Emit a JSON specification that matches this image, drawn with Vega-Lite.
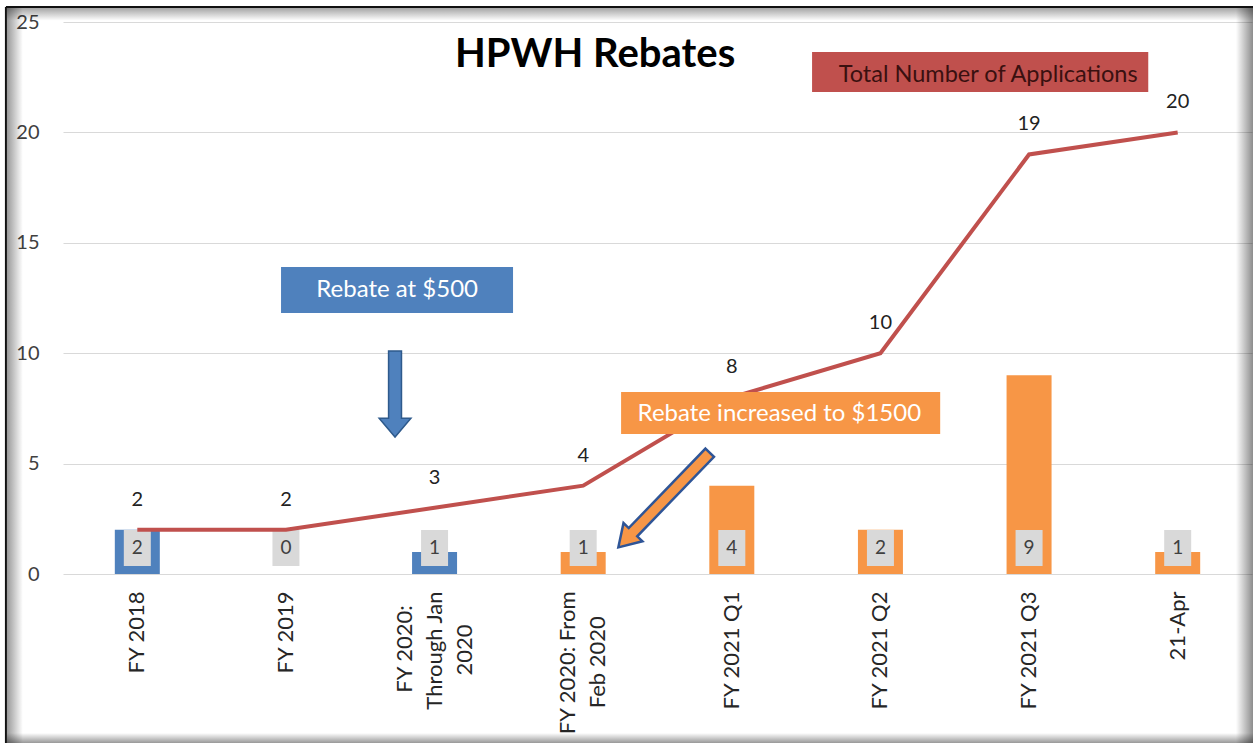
{
  "$schema": "https://vega.github.io/schema/vega-lite/v6.json",
  "width": 1189,
  "height": 552,
  "autosize": "none",
  "padding": {"left": 63, "top": 22, "right": 1, "bottom": 169},
  "background": "white",
  "config": {"view": {"stroke": null}, "font": "Lato", "text": {"font": "Lato"}},
  "resolve": {"scale": {"x": "independent", "color": "independent"}},
  "layer": [
    {
      "data": {"values": [
        {"cat": "FY 2018", "count": 2, "total": 2, "rebate": "$500"},
        {"cat": "FY 2019", "count": 0, "total": 2, "rebate": "$500"},
        {"cat": "FY 2020:\nThrough Jan\n2020", "count": 1, "total": 3, "rebate": "$500"},
        {"cat": "FY 2020: From\nFeb 2020", "count": 1, "total": 4, "rebate": "$1500"},
        {"cat": "FY 2021 Q1", "count": 4, "total": 8, "rebate": "$1500"},
        {"cat": "FY 2021 Q2", "count": 2, "total": 10, "rebate": "$1500"},
        {"cat": "FY 2021 Q3", "count": 9, "total": 19, "rebate": "$1500"},
        {"cat": "21-Apr", "count": 1, "total": 20, "rebate": "$1500"}
      ]},
      "encoding": {
        "x": {
          "field": "cat", "type": "nominal", "sort": null, "title": null,
          "scale": {"paddingInner": 0, "paddingOuter": 0},
          "axis": {
            "domain": false, "ticks": false, "tickSize": 0, "grid": false,
            "labelAngle": -90, "labelBaseline": "middle", "labelAlign": "right",
            "labelOffset": {"condition": [
              {"test": "length(split(datum.value, '\\n')) == 3", "value": -30},
              {"test": "length(split(datum.value, '\\n')) == 2", "value": -15}
            ], "value": 0},
            "labelPadding": 17,
            "labelFontSize": 22, "labelFont": "Lato",
            "labelColor": "#262626", "labelLineHeight": 30, "labelOverlap": false,
            "labelLimit": 0,
            "labelExpr": "indexof(datum.label, '\\n') < 0 ? datum.label : length(split(datum.label, '\\n')) == 3 ? [split(datum.label, '\\n')[0] + '\u2002\u2009\u2060', split(datum.label, '\\n')[1], split(datum.label, '\\n')[2] + '\u2002\u2002\u2002\u2060'] : [split(datum.label, '\\n')[0], split(datum.label, '\\n')[1] + '\u2002\u2002\u2009\u2060']"
          }
        }
      },
      "layer": [
        {
          "mark": {"type": "bar", "width": 45},
          "encoding": {
            "y": {
              "field": "count", "type": "quantitative", "title": null,
              "scale": {"domain": [0, 25], "nice": false},
              "axis": {
                "values": [0, 5, 10, 15, 20, 25], "grid": true, "gridColor": "#D9D9D9",
                "domain": false, "ticks": false, "tickSize": 0, "labelPadding": 24,
                "labelFontSize": 20, "labelFont": "Lato", "labelColor": "#404040", "title": null
              }
            },
            "color": {
              "field": "rebate", "type": "nominal",
              "scale": {"domain": ["$500", "$1500"], "range": ["#4F81BD", "#F79646"]},
              "legend": null
            }
          }
        },
        {
          "mark": {"type": "bar", "width": 27, "color": "#D9D9D9"},
          "encoding": {"y": {"datum": 0.36}, "y2": {"datum": 1.99}}
        },
        {
          "mark": {"type": "text", "fontSize": 19, "color": "#404040", "baseline": "middle"},
          "encoding": {"y": {"datum": 1.18}, "text": {"field": "count"}}
        },
        {
          "mark": {"type": "line", "color": "#C0504D", "strokeWidth": 4},
          "encoding": {"y": {"field": "total", "type": "quantitative", "title": null}}
        },
        {
          "mark": {"type": "text", "fontSize": 20, "color": "#222222", "dy": -30, "baseline": "middle"},
          "encoding": {
            "y": {"field": "total", "type": "quantitative", "title": null},
            "text": {"field": "total"}
          }
        }
      ]
    },
    {
      "layer": [
        {
          "data": {"values": [{"x1": -0.377, "x2": -0.27, "y1": -7.65, "y2": 25.68}]},
          "mark": {"type": "rect", "fill": {"gradient": "linear", "x1": 0, "y1": 0, "x2": 1, "y2": 0, "stops": [{"offset": 0, "color": "rgba(0,0,0,0.4)"}, {"offset": 1, "color": "rgba(0,0,0,0)"}]}},
          "encoding": {
            "x": {"field": "x1", "type": "quantitative", "scale": {"domain": [0, 8], "nice": false, "zero": false}, "axis": null},
            "x2": {"field": "x2"},
            "y": {"field": "y1", "type": "quantitative", "title": null},
            "y2": {"field": "y2"}
          }
        },
        {
          "data": {"values": [{"x1": -0.377, "x2": 8.007, "y1": 25.06, "y2": 25.63}]},
          "mark": {"type": "rect", "fill": {"gradient": "linear", "x1": 0, "y1": 0, "x2": 0, "y2": 1, "stops": [{"offset": 0, "color": "rgba(0,0,0,0.35)"}, {"offset": 1, "color": "rgba(0,0,0,0)"}]}},
          "encoding": {
            "x": {"field": "x1", "type": "quantitative", "scale": {"domain": [0, 8], "nice": false, "zero": false}, "axis": null},
            "x2": {"field": "x2"},
            "y": {"field": "y1", "type": "quantitative", "title": null},
            "y2": {"field": "y2"}
          }
        },
        {
          "data": {"values": [{"x1": 7.892, "x2": 8.007, "y1": -7.65, "y2": 25.68}]},
          "mark": {"type": "rect", "fill": {"gradient": "linear", "x1": 0, "y1": 0, "x2": 1, "y2": 0, "stops": [{"offset": 0, "color": "rgba(0,0,0,0)"}, {"offset": 1, "color": "rgba(0,0,0,0.45)"}]}},
          "encoding": {
            "x": {"field": "x1", "type": "quantitative", "scale": {"domain": [0, 8], "nice": false, "zero": false}, "axis": null},
            "x2": {"field": "x2"},
            "y": {"field": "y1", "type": "quantitative", "title": null},
            "y2": {"field": "y2"}
          }
        },
        {
          "data": {"values": [{"x1": -0.377, "x2": 8.007, "y1": -7.65, "y2": -7.2}]},
          "mark": {"type": "rect", "fill": {"gradient": "linear", "x1": 0, "y1": 0, "x2": 0, "y2": 1, "stops": [{"offset": 0, "color": "rgba(0,0,0,0)"}, {"offset": 1, "color": "rgba(0,0,0,0.4)"}]}},
          "encoding": {
            "x": {"field": "x1", "type": "quantitative", "scale": {"domain": [0, 8], "nice": false, "zero": false}, "axis": null},
            "x2": {"field": "x2"},
            "y": {"field": "y1", "type": "quantitative", "title": null},
            "y2": {"field": "y2"}
          }
        },
        {
          "data": {"values": [
            {"x1": -0.384, "x2": -0.384, "y1": -7.65, "y2": 25.68},
            {"x1": -0.384, "x2": 8.007, "y1": 25.68, "y2": 25.68}
          ]},
          "mark": {"type": "rule", "color": "#111111", "strokeWidth": 2},
          "encoding": {
            "x": {"field": "x1", "type": "quantitative", "scale": {"domain": [0, 8], "nice": false, "zero": false}, "axis": null},
            "x2": {"field": "x2"},
            "y": {"field": "y1", "type": "quantitative", "title": null},
            "y2": {"field": "y2"}
          }
        },
        {
          "data": {"values": [
            {"x1": 1.467, "x2": 3.028, "y1": 11.82, "y2": 13.9, "box": "blue"},
            {"x1": 5.04, "x2": 7.302, "y1": 21.83, "y2": 23.64, "box": "red"},
            {"x1": 3.755, "x2": 5.902, "y1": 6.34, "y2": 8.24, "box": "orange"}
          ]},
          "mark": {"type": "rect"},
          "encoding": {
            "x": {"field": "x1", "type": "quantitative", "scale": {"domain": [0, 8], "nice": false, "zero": false}, "axis": null},
            "x2": {"field": "x2"},
            "y": {"field": "y1", "type": "quantitative", "title": null},
            "y2": {"field": "y2"},
            "color": {
              "field": "box", "type": "nominal",
              "scale": {"domain": ["blue", "red", "orange"], "range": ["#4F81BD", "#C0504D", "#F79646"]},
              "legend": null
            }
          }
        },
        {
          "data": {"values": [
            {"x": 2.248, "y": 12.86, "note": "Rebate at $500"},
            {"x": 4.82, "y": 7.25, "note": "Rebate increased to $1500"}
          ]},
          "mark": {"type": "text", "fontSize": 24, "color": "#FFFFFF", "baseline": "middle", "align": "center"},
          "encoding": {
            "x": {"field": "x", "type": "quantitative", "scale": {"domain": [0, 8], "nice": false, "zero": false}, "axis": null},
            "y": {"field": "y", "type": "quantitative", "title": null},
            "text": {"field": "note"}
          }
        },
        {
          "data": {"values": [{"x": 6.225, "y": 22.6, "note": "Total Number of Applications"}]},
          "mark": {"type": "text", "fontSize": 23.5, "color": "#3A1010", "baseline": "middle", "align": "center"},
          "encoding": {
            "x": {"field": "x", "type": "quantitative", "scale": {"domain": [0, 8], "nice": false, "zero": false}, "axis": null},
            "y": {"field": "y", "type": "quantitative", "title": null},
            "text": {"field": "note"}
          }
        },
        {
          "data": {"values": [{"x": 3.58, "y": 23.5, "note": "HPWH Rebates"}]},
          "mark": {"type": "text", "fontSize": 40, "fontWeight": "bold", "color": "#000000", "baseline": "middle", "align": "center"},
          "encoding": {
            "x": {"field": "x", "type": "quantitative", "scale": {"domain": [0, 8], "nice": false, "zero": false}, "axis": null},
            "y": {"field": "y", "type": "quantitative", "title": null},
            "text": {"field": "note"}
          }
        },
        {
          "data": {"values": [{"x": 2.234, "y": 8.15}]},
          "mark": {
            "type": "point", "filled": true, "fill": "#4F81BD", "stroke": "#2E5A8C", "strokeWidth": 1.5,
            "opacity": 1, "fillOpacity": 1, "strokeOpacity": 1, "size": 7396,
            "shape": "M-0.15,-1 L0.15,-1 L0.15,0.56 L0.37,0.56 L0,1 L-0.37,0.56 L-0.15,0.56 Z"
          },
          "encoding": {
            "x": {"field": "x", "type": "quantitative", "scale": {"domain": [0, 8], "nice": false, "zero": false}, "axis": null},
            "y": {"field": "y", "type": "quantitative", "title": null}
          }
        },
        {
          "data": {"values": [{"x": 4.044, "y": 3.35}]},
          "mark": {
            "type": "point", "filled": true, "fill": "#F79646", "stroke": "#2F5597", "strokeWidth": 2.5,
            "opacity": 1, "fillOpacity": 1, "strokeOpacity": 1, "size": 17300, "angle": 44,
            "shape": "M-0.09,-1 L0.09,-1 L0.09,0.68 L0.2,0.68 L0,1 L-0.2,0.68 L-0.09,0.68 Z"
          },
          "encoding": {
            "x": {"field": "x", "type": "quantitative", "scale": {"domain": [0, 8], "nice": false, "zero": false}, "axis": null},
            "y": {"field": "y", "type": "quantitative", "title": null}
          }
        }
      ]
    }
  ]
}
